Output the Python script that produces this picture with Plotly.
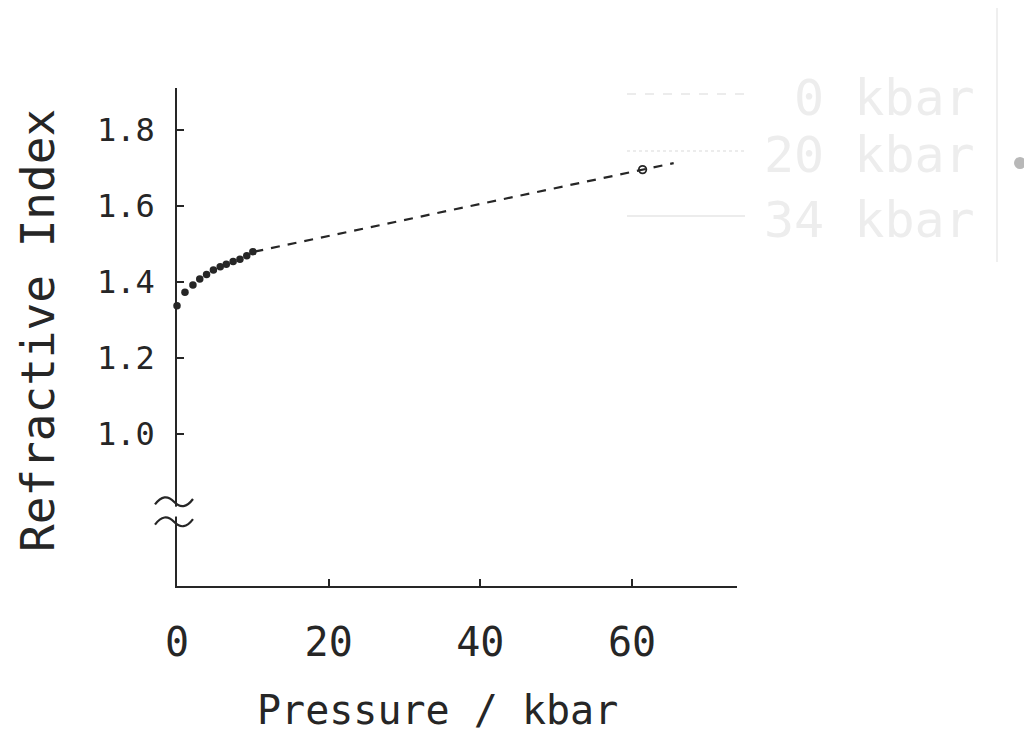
import plotly.graph_objects as go

# ---- data ----
measured_pressure = [0.0, 1.05, 2.1, 3.0, 3.9, 4.8, 5.7, 6.5, 7.4, 8.3, 9.2, 10.0]
measured_index = [1.337, 1.372, 1.391, 1.407, 1.419, 1.431, 1.439, 1.446, 1.453, 1.459, 1.468, 1.479]

extrap_pressure = [10.2, 65.5]
extrap_index = [1.479, 1.712]

open_pressure = [61.4]
open_index = [1.695]

x_tick_vals = [0, 20, 40, 60]
x_tick_text = ["0", "20", "40", "60"]
y_tick_vals = [1.0, 1.2, 1.4, 1.6, 1.8]
y_tick_text = ["1.0", "1.2", "1.4", "1.6", "1.8"]

ghost_legend = ["0 kbar", "20 kbar", "34 kbar"]

FONT = "DejaVu Sans Mono"
INK = "#262626"

fig = go.Figure()

fig.add_trace(go.Scatter(
    x=extrap_pressure, y=extrap_index, mode="lines",
    line=dict(color=INK, width=2.2, dash="9px,8px"),
    showlegend=False, hoverinfo="skip"))

fig.add_trace(go.Scatter(
    x=measured_pressure, y=measured_index, mode="markers",
    marker=dict(color=INK, size=7.5, line=dict(width=0)),
    cliponaxis=False, showlegend=False))

fig.add_trace(go.Scatter(
    x=open_pressure, y=open_index, mode="markers",
    marker=dict(symbol="circle-open", color=INK, size=7.5, line=dict(width=1.8)),
    showlegend=False))

# the page body adds an 8px offset; figure is sized to fit
OFF = 8
L_REF, T_REF = 177, 88          # plot-area corner in reference pixels
W, H = 1024, 744
pw, ph = 560, 498
L, T = L_REF - OFF, T_REF - OFF
R, B = W - L - pw, H - T - ph
BOTTOM_REF = T_REF + ph

def px_x(px):
    return (px - L_REF) / pw

def px_y(py):
    return (BOTTOM_REF - py) / ph

annotations = [
    dict(text="Refractive Index", x=px_x(38), y=px_y(331), xref="paper", yref="paper",
         textangle=-90, showarrow=False, font=dict(family=FONT, size=46, color=INK),
         xanchor="center", yanchor="middle"),
    dict(text="Pressure / kbar", x=px_x(437), y=px_y(710), xref="paper", yref="paper",
         showarrow=False, font=dict(family=FONT, size=40, color=INK),
         xanchor="center", yanchor="middle"),
]
ghost_y = [98, 155, 220]
for txt, gy in zip(ghost_legend, ghost_y):
    annotations.append(dict(text=txt, x=px_x(977), y=px_y(gy), xref="paper", yref="paper",
                            showarrow=False, xanchor="right", yanchor="middle",
                            font=dict(family=FONT, size=50, color="#ededed")))

shapes = []
# axis break: white gap and two tildes
shapes.append(dict(type="rect", xref="paper", yref="y", x0=px_x(173), x1=px_x(182),
                   y0=0.782, y1=0.808, fillcolor="white", line=dict(width=0), layer="above"))
tx0, tx1 = px_x(155), px_x(193)
w = tx1 - tx0
for yc in [0.821, 0.768]:
    a = 0.012
    path = (f"M {tx0},{yc - a*0.6} Q {tx0 + w*0.25},{yc + 2.2*a} {tx0 + w*0.5},{yc} "
            f"Q {tx0 + w*0.75},{yc - 2.2*a} {tx1},{yc + a*0.6}")
    shapes.append(dict(type="path", xref="paper", yref="y", path=path,
                       line=dict(color=INK, width=2.2), layer="above"))
# faint bleed-through decorations
for (gy, dash) in zip(ghost_y, ["dash", "dot", "solid"]):
    shapes.append(dict(type="line", xref="paper", yref="paper", x0=px_x(627), x1=px_x(745),
                       y0=px_y(gy - 4), y1=px_y(gy - 4), line=dict(color="#ececec", width=2, dash=dash)))
shapes.append(dict(type="line", xref="paper", yref="paper", x0=px_x(997), x1=px_x(997),
                   y0=px_y(8), y1=px_y(262), line=dict(color="#efefef", width=2)))
shapes.append(dict(type="circle", xref="paper", yref="paper", xsizemode="pixel", ysizemode="pixel",
                   xanchor=px_x(1020), yanchor=px_y(163), x0=-6, x1=6, y0=-6, y1=6,
                   fillcolor="#b8b8b8", line=dict(width=0)))

fig.update_layout(
    width=W, height=H,
    margin=dict(l=L, r=R, t=T, b=B, pad=0),
    paper_bgcolor="white", plot_bgcolor="white",
    font=dict(family=FONT, color=INK),
    showlegend=False,
    annotations=annotations,
    shapes=shapes,
    xaxis=dict(range=[0, 73.85], showgrid=False, zeroline=False, showline=True,
               linecolor=INK, linewidth=1.8, ticks="inside", ticklen=7, tickwidth=1.5,
               tickcolor=INK, tickvals=x_tick_vals, ticktext=x_tick_text,
               tickfont=dict(family=FONT, size=40, color=INK), ticklabelstandoff=20),
    yaxis=dict(range=[0.5992, 1.9097], showgrid=False, zeroline=False, showline=True,
               linecolor=INK, linewidth=1.8, ticks="inside", ticklen=7, tickwidth=1.5,
               tickcolor=INK, tickvals=y_tick_vals, ticktext=y_tick_text,
               tickfont=dict(family=FONT, size=32, color=INK), ticklabelstandoff=14),
)

fig.write_html("out.html")
